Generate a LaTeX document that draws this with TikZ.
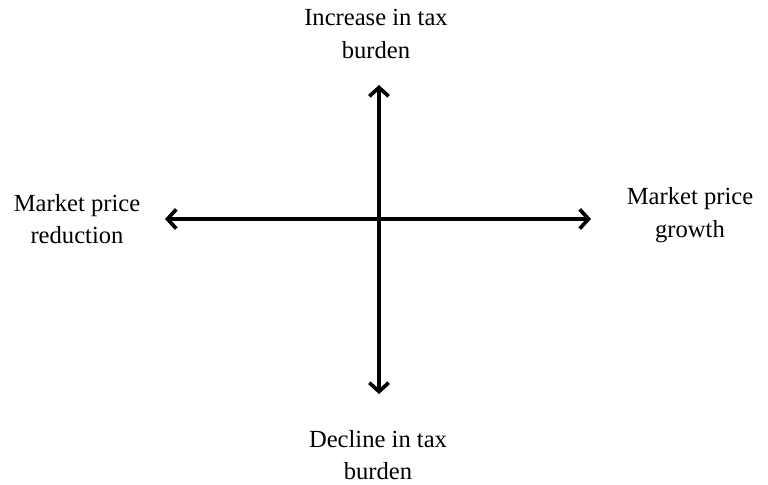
\documentclass[tikz,border=0pt]{standalone}
\usepackage{fontspec}
\setmainfont{Liberation Serif}
\usepackage{tikz}
\usetikzlibrary{positioning, calc, arrows.meta}

\begin{document}
\begin{tikzpicture}[
    x=0.02cm, y=-0.02cm,
    axislabel/.style={align=center, font=\fontsize{14}{18.5}\selectfont, inner sep=0pt},
    axisarrow/.style={line width=2.1pt, {Straight Barb[length=5pt,width=11pt,line width=2.1pt]}-{Straight Barb[length=5pt,width=11pt,line width=2.1pt]}},
  ]
    \useasboundingbox (0,0) rectangle (768,484);

    % axis end points
    \coordinate (top) at (379,85);
    \coordinate (bottom) at (379,394);
    \coordinate (left) at (165,219);
    \coordinate (right) at (591,219);

    \draw[axisarrow] (bottom) -- (top);
    \draw[axisarrow] (left) -- (right);

    \node[axislabel] (taxup) at (376,34) {Increase in tax\\burden};
    \node[axislabel] (taxdown) at (378,455) {Decline in tax\\burden};
    \node[axislabel] (pricedown) at (77,219) {Market price\\reduction};
    \node[axislabel] (priceup) at (690,215) {Market price\\growth};
  \end{tikzpicture}
\end{document}
